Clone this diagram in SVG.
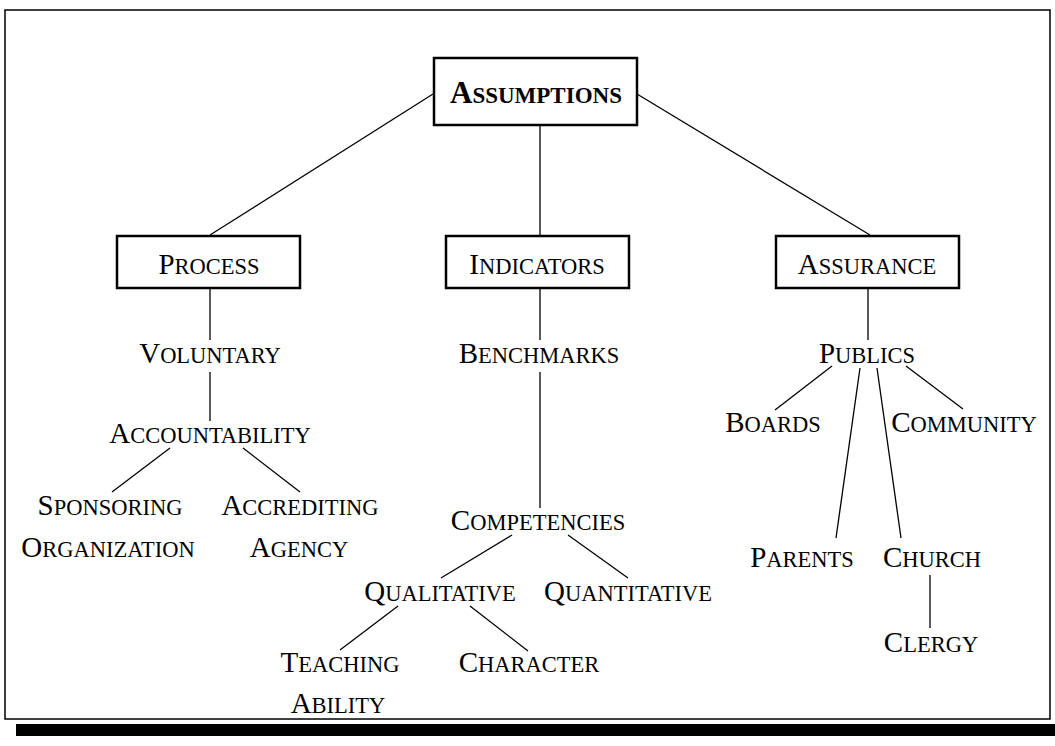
<svg xmlns="http://www.w3.org/2000/svg" width="1055" height="746" viewBox="0 0 1055 746">
<style>
text{font-family:"Liberation Serif","Times New Roman",serif;font-size:22.5px;fill:#000;text-anchor:middle}
.c{font-size:29px}
.b{font-weight:bold;font-size:23px}
.bc{font-size:31px}
.box{fill:#fff;stroke:#000;stroke-width:2.5}
#connectors line{stroke:#000;stroke-width:1.3}
</style>
<rect x="0" y="0" width="1055" height="746" fill="#fff"/>
<rect x="5" y="10" width="1045" height="709" fill="none" stroke="#000" stroke-width="1.5"/>
<rect x="16" y="724" width="1039" height="12" fill="#000"/>
<g id="connectors">
<line x1="433" y1="94" x2="210" y2="235"/>
<line x1="540" y1="125" x2="540" y2="235"/>
<line x1="637" y1="94" x2="870" y2="235"/>
<line x1="210" y1="288" x2="210" y2="340"/>
<line x1="210" y1="372" x2="210" y2="421"/>
<line x1="170" y1="448" x2="112" y2="492"/>
<line x1="243" y1="448" x2="300" y2="492"/>
<line x1="540" y1="288" x2="540" y2="340"/>
<line x1="540" y1="372" x2="540" y2="508"/>
<line x1="512" y1="535" x2="441" y2="578"/>
<line x1="568" y1="535" x2="628" y2="578"/>
<line x1="398" y1="606" x2="340" y2="650"/>
<line x1="470" y1="606" x2="528" y2="651"/>
<line x1="868" y1="288" x2="868" y2="340"/>
<line x1="832" y1="366" x2="775" y2="410"/>
<line x1="860" y1="368" x2="836" y2="538"/>
<line x1="877" y1="368" x2="901" y2="538"/>
<line x1="906" y1="366" x2="963" y2="409"/>
<line x1="930" y1="575" x2="930" y2="628"/>
</g>
<g id="assumptions"><rect class="box" x="434" y="58" width="203" height="67" stroke-width="4.5"/><text class="b" x="536" y="103"><tspan class="bc">A</tspan>SSUMPTIONS</text></g>
<g id="process"><rect class="box" x="117" y="236" width="183" height="52"/><text x="209" y="274"><tspan class="c">P</tspan>ROCESS</text></g>
<g id="indicators"><rect class="box" x="446" y="236" width="183" height="52"/><text x="537" y="274"><tspan class="c">I</tspan>NDICATORS</text></g>
<g id="assurance"><rect class="box" x="776" y="236" width="183" height="52"/><text x="867" y="274"><tspan class="c">A</tspan>SSURANCE</text></g>
<g id="voluntary"><text x="210" y="363"><tspan class="c">V</tspan>OLUNTARY</text></g>
<g id="accountability"><text x="210" y="443"><tspan class="c">A</tspan>CCOUNTABILITY</text></g>
<g id="sponsoring"><text x="110" y="515"><tspan class="c">S</tspan>PONSORING</text><text x="108" y="557"><tspan class="c">O</tspan>RGANIZATION</text></g>
<g id="accrediting"><text x="300" y="515"><tspan class="c">A</tspan>CCREDITING</text><text x="299" y="557"><tspan class="c">A</tspan>GENCY</text></g>
<g id="benchmarks"><text x="539" y="363"><tspan class="c">B</tspan>ENCHMARKS</text></g>
<g id="competencies"><text x="538" y="530"><tspan class="c">C</tspan>OMPETENCIES</text></g>
<g id="qualitative"><text x="440" y="601"><tspan class="c">Q</tspan>UALITATIVE</text></g>
<g id="quantitative"><text x="628" y="601"><tspan class="c">Q</tspan>UANTITATIVE</text></g>
<g id="teaching"><text x="340" y="672"><tspan class="c">T</tspan>EACHING</text><text x="338" y="713"><tspan class="c">A</tspan>BILITY</text></g>
<g id="character"><text x="529" y="672"><tspan class="c">C</tspan>HARACTER</text></g>
<g id="publics"><text x="867" y="363"><tspan class="c">P</tspan>UBLICS</text></g>
<g id="boards"><text x="773" y="432"><tspan class="c">B</tspan>OARDS</text></g>
<g id="community"><text x="964" y="432"><tspan class="c">C</tspan>OMMUNITY</text></g>
<g id="parents"><text x="802" y="567"><tspan class="c">P</tspan>ARENTS</text></g>
<g id="church"><text x="932" y="567"><tspan class="c">C</tspan>HURCH</text></g>
<g id="clergy"><text x="931" y="652"><tspan class="c">C</tspan>LERGY</text></g>
</svg>
